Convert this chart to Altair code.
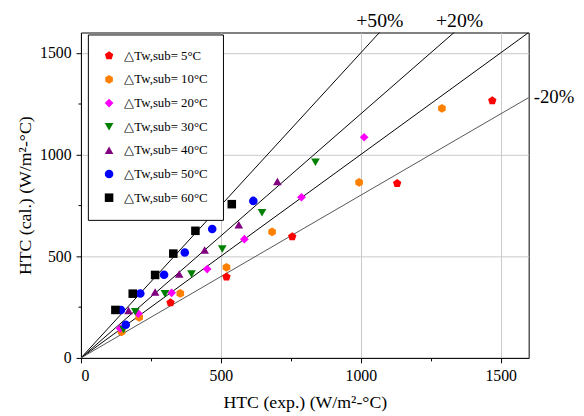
import altair as alt
import pandas as pd

series = ["△Tw,sub=  5°C", "△Tw,sub= 10°C", "△Tw,sub= 20°C", "△Tw,sub= 30°C",
          "△Tw,sub= 40°C", "△Tw,sub= 50°C", "△Tw,sub= 60°C"]
colors = ["#FF0000", "#FF8000", "#FF00FF", "#008000", "#800080", "#0000FF", "#000000"]
pentagon = "M0,-1L0.951,-0.309L0.588,0.809L-0.588,0.809L-0.951,-0.309Z"
hexagon = "M0,-1L0.866,-0.5L0.866,0.5L0,1L-0.866,0.5L-0.866,-0.5Z"
shapes = [pentagon, hexagon, "diamond", "triangle-down", "triangle-up", "circle", "square"]
sizes = [80, 75, 75, 70, 70, 55, 50]

x5 = [320, 520, 755, 1130, 1470]
y5 = [272, 398, 596, 858, 1265]
x10 = [145, 208, 355, 520, 683, 994, 1290]
y10 = [128, 200, 317, 445, 620, 863, 1227]
x20 = [140, 205, 324, 451, 584, 788, 1012]
y20 = [145, 218, 320, 437, 584, 790, 1085]
x30 = [152, 194, 300, 395, 505, 647, 838]
y30 = [140, 227, 316, 413, 536, 714, 962]
x40 = [170, 265, 351, 442, 564, 702]
y40 = [233, 324, 413, 531, 655, 867]
x50 = [160, 143, 212, 297, 371, 469, 616]
y50 = [163, 236, 317, 409, 518, 634, 772]
x60 = [123, 185, 265, 330, 409, 539]
y60 = [236, 316, 408, 513, 625, 756]

xs = [x5, x10, x20, x30, x40, x50, x60]
ys = [y5, y10, y20, y30, y40, y50, y60]

ratios = [1.5, 1.2, 1.0, 0.8]
line_colors = ["#000000", "#000000", "#000000", "#555555"]
band_text = ["+50%", "+20%", "-20%"]
band_tx = [1068, 1353, 1618]
band_ty = [1658, 1658, 1282]
band_align = ["center", "center", "left"]

rows = []
for s, xv, yv in zip(series, xs, ys):
    for a, b in zip(xv, yv):
        rows.append({"exp": a, "cal": b, "series": s})
pts = pd.DataFrame(rows)

lrows = []
for k, c in zip(ratios, line_colors):
    lrows.append({"exp": 0, "cal": 0, "k": str(k), "col": c})
    lrows.append({"exp": 1600, "cal": 1600 * k, "k": str(k), "col": c})
lines_df = pd.DataFrame(lrows)

txt_df = pd.DataFrame({"exp": band_tx, "cal": band_ty, "t": band_text, "al": band_align})

FONT = "Liberation Serif"
xscale = alt.Scale(domain=[0, 1600], nice=False)
yscale = alt.Scale(domain=[0, 1600], nice=False)

cond_grid = {"condition": {"test": "datum.value % 500 === 0", "value": 1}, "value": 0}
cond_tick = {"condition": {"test": "datum.value % 500 === 0", "value": 5}, "value": 3}
ticks = list(range(0, 1601, 250))

common_axis = dict(values=ticks, labelExpr="datum.value % 500 === 0 ? datum.label : ''",
                   gridOpacity=cond_grid, tickSize=cond_tick, format="d",
                   labelFont=FONT, titleFont=FONT, labelFontSize=16, titleFontSize=18,
                   titleFontWeight="normal", labelColor="black", titleColor="black",
                   domainColor="black", tickColor="black", gridColor="#c8c8c8")
xaxis = alt.Axis(title="HTC (exp.) (W/m²-°C)", titlePadding=10, labelPadding=5, **common_axis)
yaxis = alt.Axis(title="HTC (cal.) (W/m²-°C)", titlePadding=5, labelPadding=5, **common_axis)

lines = alt.Chart(lines_df).mark_line(clip=True, strokeWidth=1).encode(
    x=alt.X("exp:Q", scale=xscale, axis=xaxis),
    y=alt.Y("cal:Q", scale=yscale, axis=yaxis),
    detail="k:N",
    color=alt.Color("col:N", scale=None),
)

points = alt.Chart(pts).mark_point(filled=True, opacity=1).encode(
    x=alt.X("exp:Q", scale=xscale),
    y=alt.Y("cal:Q", scale=yscale),
    color=alt.Color("series:N", scale=alt.Scale(domain=series, range=colors),
                    sort=series, legend=alt.Legend(title=None)),
    shape=alt.Shape("series:N", scale=alt.Scale(domain=series, range=shapes), sort=series),
    size=alt.Size("series:N", scale=alt.Scale(domain=series, range=sizes), sort=series),
)

texts_c = alt.Chart(txt_df[txt_df["al"] == "center"]).mark_text(
    font=FONT, fontSize=20, align="center", baseline="middle", color="black"
).encode(x=alt.X("exp:Q", scale=xscale), y=alt.Y("cal:Q", scale=yscale), text="t:N")
texts_l = alt.Chart(txt_df[txt_df["al"] == "left"]).mark_text(
    font=FONT, fontSize=19, align="left", baseline="middle", color="black"
).encode(x=alt.X("exp:Q", scale=xscale), y=alt.Y("cal:Q", scale=yscale), text="t:N")

chart = alt.layer(lines, points, texts_c, texts_l).properties(
    width=454, height=330,
    autosize=alt.AutoSizeParams(type="none"),
    padding={"left": 74, "top": 22, "right": 48, "bottom": 54},
).configure_view(stroke="black", strokeWidth=1).configure_legend(
    orient="none", legendX=7, legendY=2, strokeColor="black", fillColor="white",
    padding=15, labelFont=FONT, labelFontSize=13, labelColor="black",
    symbolStrokeWidth=0, rowPadding=10, symbolOpacity=1, labelOffset=9,
)

chart.save("out.html", embed_options={"renderer": "svg", "actions": False})
